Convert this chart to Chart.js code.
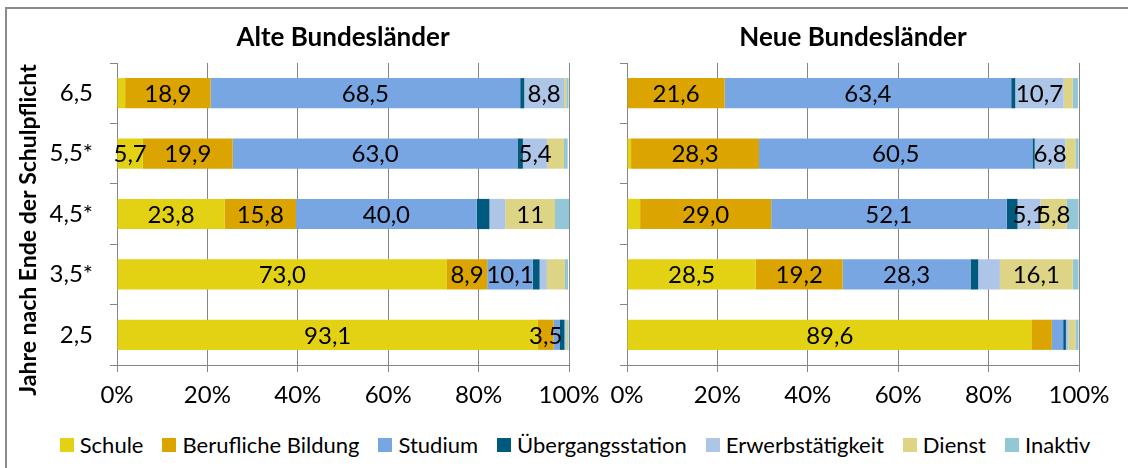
<!DOCTYPE html>
<html>
<head>
<meta charset="utf-8">
<script src="https://cdn.jsdelivr.net/npm/chart.js@4.4.1/dist/chart.umd.min.js"></script>
<style>
    body { margin: 0; background: #fff; width: 1128px; height: 468px; overflow: hidden; position: relative; font-family: Lato, sans-serif; }
    #frame { position: absolute; left: 5px; top: 7px; width: 1200px; height: 600px; border-left: 2px solid #8a8a8a; border-top: 2px solid #8a8a8a; }
    #left { position: absolute; left: 0; top: 0; }
    #right { position: absolute; left: 600px; top: 0; }
    #legend { position: absolute; left: 11px; top: 431px; width: 1128px; display: flex; justify-content: center; font-size: 22px; color: #000; }
    .item { display: flex; align-items: center; margin-right: 19px; }
    .item:last-child { margin-right: 0; }
    .box { width: 14px; height: 14px; margin-right: 6px; }
</style>
</head>
<body>
<div id="frame"></div>
<canvas id="left" width="600" height="420"></canvas>
<canvas id="right" width="528" height="420"></canvas>
<div id="legend"></div>

<script>
const categories = ["6,5", "5,5*", "4,5*", "3,5*", "2,5"]
const seriesNames = ["Schule", "Berufliche Bildung", "Studium", "Übergangsstation", "Erwerbstätigkeit", "Dienst", "Inaktiv"]
const colors = ["#E3D213", "#DBA400", "#78A6E2", "#005A7E", "#ADC5E6", "#DDD485", "#93C6D6"]
const xTicks = [0, 20, 40, 60, 80, 100]

// Alte Bundesländer
const schuleAlt = [1.8, 5.7, 23.8, 73.0, 93.1]
const berufAlt = [18.9, 19.9, 15.8, 8.9, 3.5]
const studiumAlt = [68.5, 63.0, 40.0, 10.1, 1.3]
const uebergangAlt = [0.9, 1.2, 2.8, 1.5, 1.1]
const erwerbAlt = [8.8, 5.4, 3.5, 1.6, 0.3]
const dienstAlt = [0.5, 3.7, 11.0, 4.0, 0.3]
const inaktivAlt = [0.5, 0.8, 3.1, 0.7, 0.3]

// Neue Bundesländer
const schuleNeu = [0, 0.9, 2.9, 28.5, 89.6]
const berufNeu = [21.6, 28.3, 29.0, 19.2, 4.4]
const studiumNeu = [63.4, 60.5, 52.1, 28.3, 2.5]
const uebergangNeu = [0.9, 0.5, 2.4, 1.7, 0.6]
const erwerbNeu = [10.7, 6.8, 5.1, 4.8, 0.6]
const dienstNeu = [2.0, 2.2, 5.8, 16.1, 1.5]
const inaktivNeu = [1.2, 0.7, 2.6, 1.3, 0.7]

// value labels printed in the bars (null = not shown)
const labelsAlt = [
    [null, "5,7", "23,8", "73,0", "93,1"],
    ["18,9", "19,9", "15,8", "8,9", "3,5"],
    ["68,5", "63,0", "40,0", "10,1", null],
    [null, null, null, null, null],
    ["8,8", "5,4", null, null, null],
    [null, null, "11", null, null],
    [null, null, null, null, null]
]
const labelsNeu = [
    [null, null, null, "28,5", "89,6"],
    ["21,6", "28,3", "29,0", "19,2", null],
    ["63,4", "60,5", "52,1", "28,3", null],
    [null, null, null, null, null],
    ["10,7", "6,8", "5,1", null, null],
    [null, null, "5,8", "16,1", null],
    [null, null, null, null, null]
]

const gridColor = "#868686"

const barText = {
    id: "barText",
    afterDatasetsDraw(chart, args, opts) {
        const ctx = chart.ctx
        ctx.save()
        ctx.font = "24px Lato"
        ctx.fillStyle = "#000"
        ctx.textAlign = "center"
        ctx.textBaseline = "middle"
        chart.data.datasets.forEach((ds, i) => {
            const meta = chart.getDatasetMeta(i)
            meta.data.forEach((bar, j) => {
                const txt = ds.valueLabels[j]
                if (!txt) return
                ctx.fillText(txt, (bar.x + bar.base) / 2, bar.y + 1)
            })
        })
        const area = chart.chartArea
        ctx.font = "bold 26px Lato"
        ctx.fillText(opts.title, (area.left + area.right) / 2, 38)
        if (opts.yTitle) {
            ctx.font = "bold 23px Lato"
            ctx.translate(29, 230)
            ctx.rotate(-Math.PI / 2)
            ctx.fillText(opts.yTitle, 0, 0)
        }
        ctx.restore()
    }
}

function makeChart(id, series, labels, title, yTitle, yWidth, padRight) {
    const datasets = series.map((data, i) => ({
        label: seriesNames[i],
        data: data,
        valueLabels: labels[i],
        backgroundColor: colors[i],
        borderWidth: 0,
        barPercentage: 0.5,
        categoryPercentage: 1
    }))

    return new Chart(document.getElementById(id), {
        type: "bar",
        data: { labels: categories, datasets },
        plugins: [barText],
        options: {
            indexAxis: "y",
            responsive: false,
            animation: false,
            layout: { padding: { top: 63, right: padRight, left: 0, bottom: 0 } },
            plugins: {
                legend: { display: false },
                tooltip: { enabled: false },
                barText: { title, yTitle }
            },
            scales: {
                x: {
                    stacked: true,
                    min: 0,
                    max: 100,
                    afterBuildTicks: s => { s.ticks = xTicks.map(v => ({ value: v })) },
                    afterFit: s => { s.height = 55; s.paddingLeft = 0; s.paddingRight = 0 },
                    ticks: {
                        callback: v => v + "%",
                        color: "#000",
                        font: { family: "Lato", size: 24 },
                        padding: 9,
                        maxRotation: 0
                    },
                    grid: { color: gridColor, tickLength: 7 },
                    border: { color: gridColor }
                },
                y: {
                    stacked: true,
                    afterFit: s => { s.width = yWidth; s.paddingTop = 0; s.paddingBottom = 0 },
                    ticks: {
                        callback: (v, i) => yTitle ? categories[i] : "",
                        color: "#000",
                        font: { family: "Lato", size: 24 },
                        padding: 17
                    },
                    grid: { drawOnChartArea: false, offset: true, color: gridColor, tickLength: 7 },
                    border: { color: gridColor }
                }
            }
        }
    })
}

makeChart("left",
    [schuleAlt, berufAlt, studiumAlt, uebergangAlt, erwerbAlt, dienstAlt, inaktivAlt],
    labelsAlt, "Alte Bundesländer", "Jahre nach Ende der Schulpflicht", 117, 31)

makeChart("right",
    [schuleNeu, berufNeu, studiumNeu, uebergangNeu, erwerbNeu, dienstNeu, inaktivNeu],
    labelsNeu, "Neue Bundesländer", null, 27, 49)

const legend = document.getElementById("legend")
seriesNames.forEach((name, i) => {
    const item = document.createElement("div")
    item.className = "item"
    item.innerHTML = `<span class="box" style="background:${colors[i]}"></span><span>${name}</span>`
    legend.appendChild(item)
})
</script>
</body>
</html>
